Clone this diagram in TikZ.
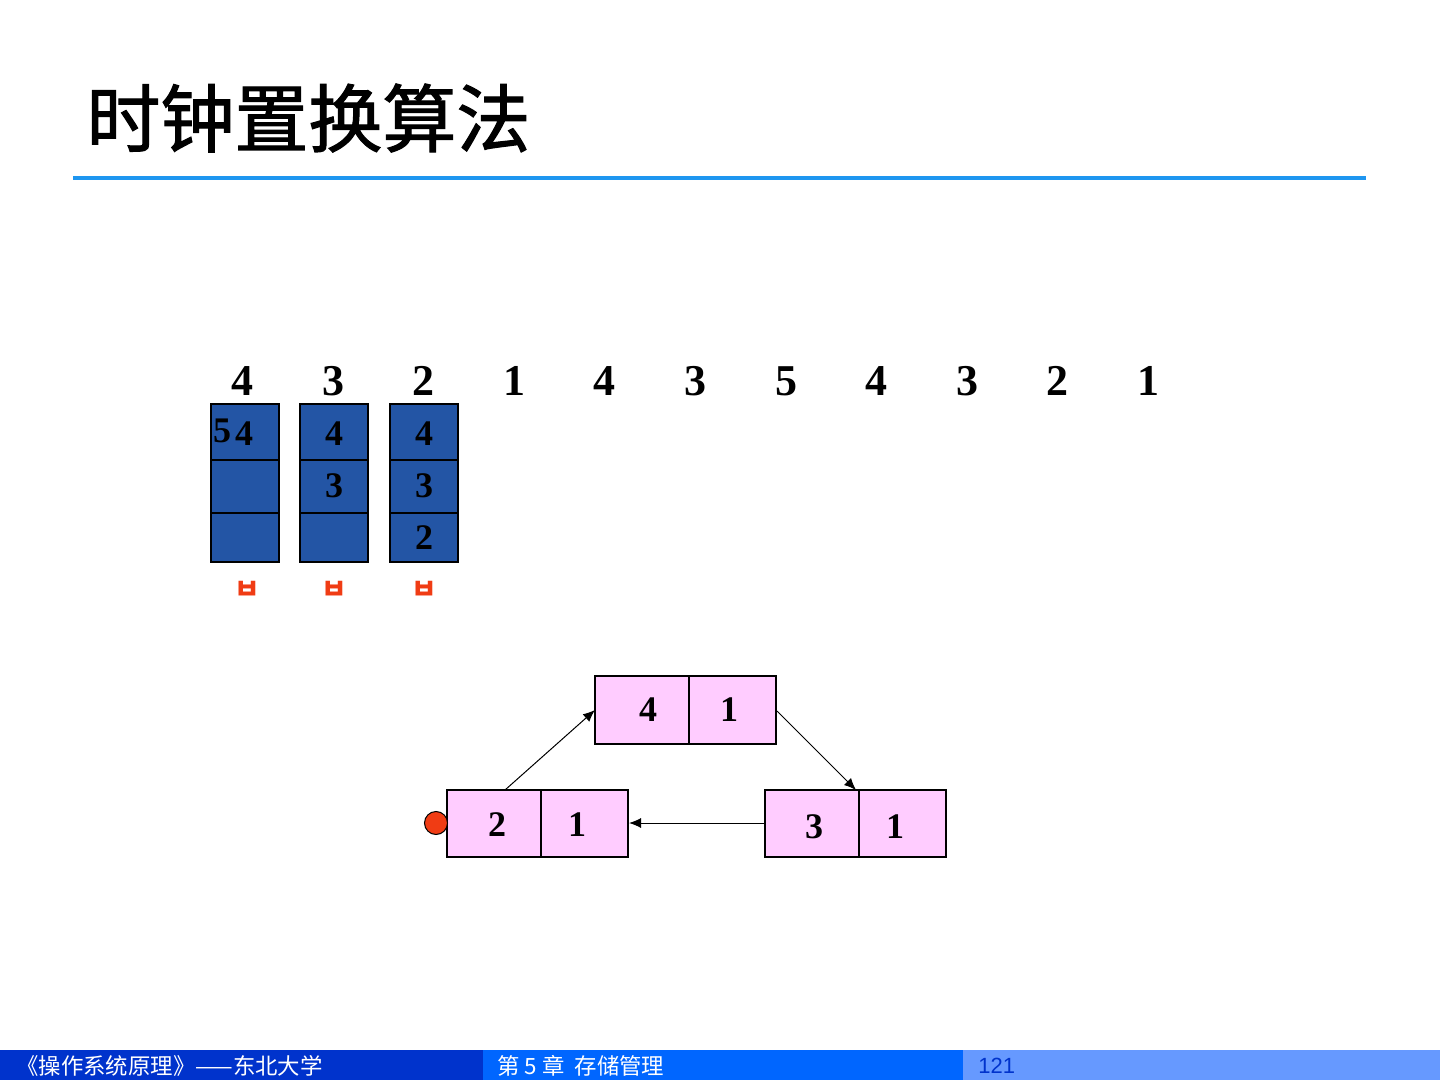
\documentclass[tikz,border=0pt]{standalone}
\usepackage{fontspec}
\setmainfont{Liberation Serif}
\newfontfamily\cjk{Noto Sans CJK SC}
\newfontfamily\cjktitle[FakeBold=1.5]{Noto Sans CJK SC}
\newfontfamily\kor{Noto Sans CJK KR}
\newfontfamily\lsans{Liberation Sans}
\usetikzlibrary{arrows.meta}
\definecolor{cellblue}{RGB}{35,85,165}
\definecolor{pinkfill}{RGB}{255,204,255}
\definecolor{redmark}{RGB}{240,60,20}
\definecolor{rulecol}{RGB}{30,150,240}
\definecolor{footA}{RGB}{0,51,204}
\definecolor{footB}{RGB}{0,102,255}
\definecolor{footC}{RGB}{102,153,255}
\tikzset{
  refnum/.style={font=\fontsize{22}{24}\selectfont\bfseries, inner sep=0pt},
  cellnum/.style={font=\fontsize{18}{20}\selectfont\bfseries, inner sep=0pt},
  boxnum/.style={font=\fontsize{18}{20}\selectfont\bfseries, inner sep=0pt},
  frame/.style={draw=black, fill=cellblue, line width=0.8pt},
  pinkbox/.style={draw=black, fill=pinkfill, line width=0.6pt},
  redglyph/.style={font=\kor\fontsize{14}{15}\selectfont\bfseries, text=redmark, inner sep=0pt},
  conn/.style={-{Latex[length=6pt,width=5pt]}, line width=0.5pt},
  foot/.style={font=\cjk\fontsize{11.2}{12}\selectfont, anchor=west, inner sep=0pt}
}
\begin{document}
\begin{tikzpicture}[x=0.5pt,y=-0.5pt]
\useasboundingbox (0,0) rectangle (1440,1080);
\fill[white] (0,0) rectangle (1440,1080);
% title
\node[anchor=west, inner sep=0pt, font=\cjktitle\fontsize{37}{40}\selectfont] (title) at (86,118) {时钟置换算法};
\draw[rulecol, line width=1.6pt] (73,178) -- (1366,178);
% reference string
\foreach \v/\x [count=\i] in {4/242,3/333,2/423,1/514,4/604,3/695,5/786,4/876,3/967,2/1057,1/1148}
  \node[refnum] (r\i) at (\x,381) {\v};
% frames
\foreach \c/\x in {1/211,2/300,3/390}{
  \draw[frame] (\x,404) rectangle (\x+68,562);
  \draw[black, line width=0.6pt] (\x,460) -- (\x+68,460);
  \draw[black, line width=0.8pt] (\x,513) -- (\x+68,513);
}
\node[cellnum] (f1a) at (244,434) {4};
\node[cellnum] (f1x) at (222,431) {5};
\node[cellnum] (f2a) at (334,434) {4};
\node[cellnum] (f2b) at (334,486) {3};
\node[cellnum] (f3a) at (424,434) {4};
\node[cellnum] (f3b) at (424,486) {3};
\node[cellnum] (f3c) at (424,538) {2};
\node[redglyph] (m1) at (247,590) {ㅂ};
\node[redglyph] (m2) at (334,590) {ㅂ};
\node[redglyph] (m3) at (424,590) {ㅂ};
% clock boxes
\draw[pinkbox] (595,676) rectangle (776,744);
\draw[line width=0.6pt] (689,676) -- (689,744);
\node[boxnum] (t4) at (648,710) {4};
\node[boxnum] (t1) at (729,710) {1};
\draw[pinkbox] (447,790) rectangle (628,857);
\draw[line width=0.6pt] (541,790) -- (541,857);
\node[boxnum] (l2) at (497,825) {2};
\node[boxnum] (l1) at (577,825) {1};
\draw[pinkbox] (765,790) rectangle (946,857);
\draw[line width=0.6pt] (859,790) -- (859,857);
\node[boxnum] (g3) at (814,827) {3};
\node[boxnum] (g1) at (895,827) {1};
\coordinate (lt) at (505,790);
\coordinate (tl) at (595,710);
\coordinate (tr) at (777,711);
\coordinate (gt) at (856,790);
\coordinate (gl) at (765,823);
\coordinate (lr) at (629,823);
\draw[conn] (lt) -- (tl);
\draw[conn] (tr) -- (gt);
\draw[conn] (gl) -- (lr);
\node[circle, draw=black, fill=redmark, minimum size=11.5pt, inner sep=0pt, line width=0.5pt] (ptr) at (436,823) {};
% footer
\fill[footA] (0,1050) rectangle (483,1080);
\fill[footB] (483,1050) rectangle (963,1080);
\fill[footC] (963,1050) rectangle (1440,1080);
\node[foot, text=white] (fa) at (16,1066) {《操作系统原理》——东北大学};
\node[foot, text=white] (fb) at (497,1066) {第 5 章\ \ 存储管理};
\node[foot, text=footA, font=\lsans\fontsize{11}{12}\selectfont] (fc) at (978,1066) {121};
\end{tikzpicture}
\end{document}
